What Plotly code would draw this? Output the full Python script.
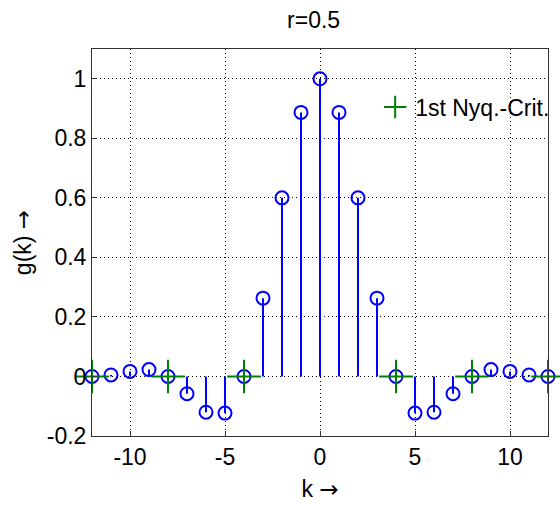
import plotly.graph_objects as go

k = list(range(-12, 13))
g = [0.0, 0.005, 0.017, 0.023, 0.0, -0.058, -0.12, -0.123, 0.0, 0.263, 0.60, 0.887, 1.0,
     0.887, 0.60, 0.263, 0.0, -0.123, -0.12, -0.058, 0.0, 0.023, 0.017, 0.005, 0.0]
nyq_k = [-12, -8, -4, 4, 8, 12]
nyq_g = [0, 0, 0, 0, 0, 0]

title_text = "r=0.5"
ARROW = '<span style="font-family:DejaVu Sans">→</span>'
xlabel = "k " + ARROW
ylabel = "g(k) " + ARROW
legend_text = "1st Nyq.-Crit."
xticks = [-10, -5, 0, 5, 10]
yticks = [-0.2, 0, 0.2, 0.4, 0.6, 0.8, 1]

BLUE = "#0000FF"
GREEN = "#008000"
FONT = "Liberation Sans, Arial, sans-serif"

stem_x, stem_y = [], []
for xi, yi in zip(k, g):
    stem_x += [xi, xi, None]
    stem_y += [0, yi, None]

fig = go.Figure()
fig.add_trace(go.Scatter(x=stem_x, y=stem_y, mode="lines", cliponaxis=False,
                         line=dict(color=BLUE, width=2), showlegend=False, hoverinfo="skip"))
fig.add_trace(go.Scatter(x=k, y=g, mode="markers", cliponaxis=False,
                         marker=dict(symbol="circle-open", size=13, color=BLUE, line=dict(width=2, color=BLUE)),
                         showlegend=False))
fig.add_trace(go.Scatter(x=nyq_k, y=nyq_g, mode="markers", name=legend_text, cliponaxis=False,
                         marker=dict(symbol="cross-thin-open", size=24, color=GREEN,
                                     line=dict(width=2, color=GREEN))))

axis_common = dict(showline=True, linecolor="#333333", linewidth=1, mirror=True,
                   ticks="inside", ticklen=5, tickcolor="#333333",
                   showgrid=True, gridcolor="black", griddash="1px,3px", gridwidth=1,
                   zeroline=False, tickfont=dict(size=23, color="black", family=FONT))

fig.update_xaxes(range=[-12, 12], tickvals=xticks, ticktext=[str(v) for v in xticks],
                 title=dict(text=xlabel, font=dict(size=23, family=FONT, color="black"), standoff=12),
                 **axis_common)
fig.update_yaxes(range=[-0.2, 1.1], tickvals=yticks, ticktext=[("%g" % v) for v in yticks],
                 title=dict(text=ylabel, font=dict(size=23, family=FONT, color="black"), standoff=8),
                 **axis_common)

fig.update_layout(
    width=560, height=506,
    margin=dict(l=92, r=12, t=49, b=70, autoexpand=False),
    paper_bgcolor="white", plot_bgcolor="white",
    title=dict(text=title_text, x=0.56, xanchor="center", y=0.96, yanchor="middle",
               font=dict(size=23, family=FONT, color="black")),
    legend=dict(x=0.621, y=0.85, xanchor="left", yanchor="middle", bgcolor="rgba(0,0,0,0)",
                borderwidth=0, font=dict(size=23, family=FONT, color="black")),
    font=dict(family=FONT),
)

fig.write_html("out.html")
